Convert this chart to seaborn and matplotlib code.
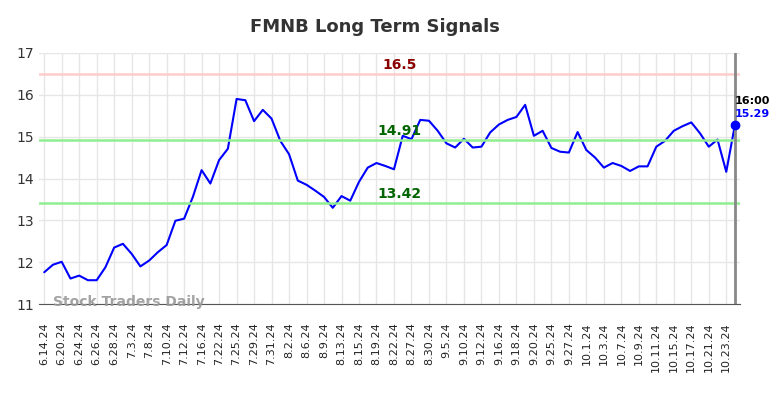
import numpy as np
import pandas as pd
import matplotlib
matplotlib.use('Agg')
import matplotlib.pyplot as plt
import seaborn as sns

# closing prices, one per trading day (6.14.24 .. 10.24.24)
prices = [11.76, 11.94, 12.01, 11.61, 11.68, 11.57, 11.57, 11.88, 12.35, 12.44,
          12.20, 11.90, 12.04, 12.24, 12.41, 12.99, 13.04, 13.56, 14.20, 13.88,
          14.44, 14.71, 15.90, 15.87, 15.37, 15.64, 15.43, 14.90, 14.58, 13.95,
          13.85, 13.71, 13.56, 13.30, 13.58, 13.47, 13.92, 14.26, 14.37, 14.30,
          14.22, 15.02, 14.94, 15.40, 15.38, 15.14, 14.84, 14.74, 14.95, 14.74,
          14.76, 15.10, 15.29, 15.40, 15.47, 15.76, 15.02, 15.14, 14.73, 14.64,
          14.62, 15.11, 14.68, 14.50, 14.26, 14.37, 14.30, 14.18, 14.29, 14.29,
          14.76, 14.90, 15.14, 15.25, 15.34, 15.08, 14.76, 14.93, 14.16, 15.29]

tick_labels = ['6.14.24', '6.20.24', '6.24.24', '6.26.24', '6.28.24', '7.3.24', '7.8.24',
               '7.10.24', '7.12.24', '7.16.24', '7.22.24', '7.25.24', '7.29.24', '7.31.24',
               '8.2.24', '8.6.24', '8.9.24', '8.13.24', '8.15.24', '8.19.24', '8.22.24',
               '8.27.24', '8.30.24', '9.5.24', '9.10.24', '9.12.24', '9.16.24', '9.18.24',
               '9.20.24', '9.25.24', '9.27.24', '10.1.24', '10.3.24', '10.7.24', '10.9.24',
               '10.11.24', '10.15.24', '10.17.24', '10.21.24', '10.23.24']

resistance = 16.5
support_levels = [14.91, 13.42]
last_time = '16:00'

df = pd.DataFrame({'idx': range(len(prices)), 'price': prices})

sns.set_style('white')
fig = plt.figure(figsize=(7.84, 3.98), dpi=100)
ax = fig.add_axes([0.0497, 0.236, 0.8945, 0.631])

sns.lineplot(data=df, x='idx', y='price', ax=ax, color='#0000ff', linewidth=1.5)

ax.set_xticks(range(0, len(prices), 2))
ax.set_xticklabels(tick_labels, rotation=90, fontsize=8, color='#222222')
ax.set_yticks(range(11, 18))
ax.tick_params(axis='y', labelsize=10, colors='#333333', length=0)
ax.tick_params(axis='x', length=0, pad=13)
ax.set_xlim(-0.6, len(prices) - 0.4)
ax.set_ylim(11, 17)
ax.grid(True, color='#e6e6e6', linewidth=1)
ax.set_axisbelow(True)
ax.set_xlabel('')
ax.set_ylabel('')
for s in ['left', 'right', 'top']:
    ax.spines[s].set_visible(False)
ax.spines['bottom'].set_color('#555555')

# signal lines
mid = 40.6
ax.axhline(resistance, color='#ffcccc', linewidth=1.8)
ax.text(mid, resistance + 0.05, str(resistance), color='#8b0000', fontsize=10,
        fontweight='bold', ha='center', va='bottom')
for lvl in support_levels:
    ax.axhline(lvl, color='#90ee90', linewidth=1.8)
    ax.text(mid, lvl + 0.05, f'{lvl:.2f}', color='#006400', fontsize=10,
            fontweight='bold', ha='center', va='bottom')

# last point marker
last = len(prices) - 1
ax.axvline(last, color='#888888', linewidth=2)
ax.plot(last, prices[-1], 'o', color='#0000ff', markersize=6)
ax.text(last, prices[-1] + 0.56, last_time, color='black', fontsize=8,
        fontweight='bold', ha='left', va='center')
ax.text(last, prices[-1] + 0.24, f'{prices[-1]:.2f}', color='#0000ff', fontsize=8,
        fontweight='bold', ha='left', va='center')

ax.text(1.0, 11.04, 'Stock Traders Daily', color='#999999', fontsize=10,
        fontweight='bold', ha='left', va='center', alpha=0.9)

fig.suptitle('FMNB Long Term Signals', x=0.478, y=0.955, fontsize=13,
             fontweight='bold', color='#333333')

fig.savefig('out.png', dpi=100)
